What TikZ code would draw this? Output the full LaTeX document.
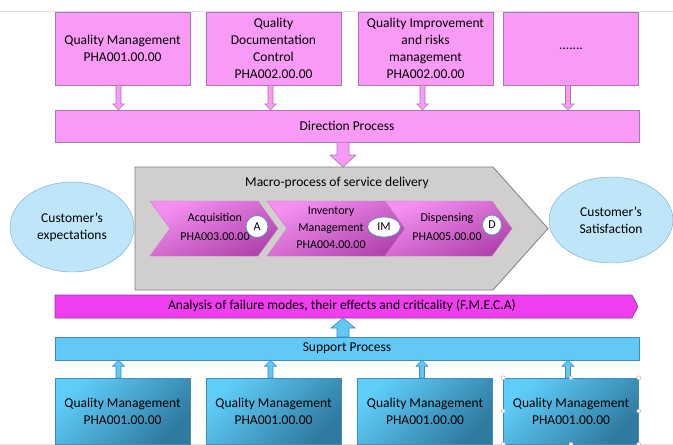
\documentclass[tikz,border=0pt]{standalone}
\usepackage{fontspec}
\setmainfont{Carlito}
\usetikzlibrary{calc,shapes.geometric}

\definecolor{pinkfill}{HTML}{F99BF6}
\definecolor{pinkline}{HTML}{A577B8}
\definecolor{greyfill}{HTML}{D1CECE}
\definecolor{greyline}{HTML}{7F7F7F}
\definecolor{chevtop}{HTML}{F590F2}
\definecolor{chevbot}{HTML}{B043AC}
\definecolor{chevline}{HTML}{C77CC8}
\definecolor{skyfill}{HTML}{BFE5F8}
\definecolor{skyline}{HTML}{74A9D0}
\definecolor{fmecafill}{HTML}{F03DF0}
\definecolor{fmecaline}{HTML}{8E3C9E}
\definecolor{bluefill}{HTML}{62C9F7}
\definecolor{blueline}{HTML}{3F8CBE}
\definecolor{bluetop}{HTML}{5FCDF9}
\definecolor{bluebot}{HTML}{2F7AA0}
\definecolor{badgeline}{HTML}{5E8FBF}

\newcommand\txtmain{\fontsize{13.5}{17}\selectfont}
\newcommand\txtchev{\fontsize{12}{17}\selectfont}

% vertical block arrow: #1 start, #2 end (only its y is used),
% #3 half shaft width, #4 half head width, #5 signed head length, #6 style
\newcommand\vblockarrow[6]{%
  \path[#6] let \p1=#1, \p2=#2, \n1={\y2+(#5)} in
    ({\x1-#3},\y1) -- ({\x1-#3},\n1) -- ({\x1-#4},\n1) -- (\x1,\y2)
    -- ({\x1+#4},\n1) -- ({\x1+#3},\n1) -- ({\x1+#3},\y1) -- cycle;}

\begin{document}
\begin{tikzpicture}[x=1pt,y=-1pt,
  pinkbox/.style={draw=pinkline, fill=pinkfill, minimum width=135pt,
    minimum height=73pt, align=center, font=\txtmain, inner sep=0pt},
  pinkbar/.style={draw=pinkline, fill=pinkfill, minimum width=584pt,
    minimum height=32pt, font=\txtmain, inner sep=0pt},
  bluebox/.style={draw=blueline, top color=bluetop, bottom color=bluebot,
    shading angle=45, minimum width=135pt, minimum height=66pt,
    align=center, font=\txtmain, inner sep=0pt},
  bluebar/.style={draw=blueline, fill=bluefill, minimum width=584pt,
    minimum height=23pt, font=\txtmain, inner sep=0pt},
  customer/.style={ellipse, draw=skyline, fill=skyfill, align=center,
    font=\txtmain, inner sep=0pt},
  chevron/.style={draw=chevline, top color=chevtop, bottom color=chevbot,
    shading angle=25},
  chevtext/.style={align=center, font=\txtchev, inner sep=0pt},
  badge/.style={ellipse, draw=badgeline, fill=white, line width=0.8pt,
    font=\txtchev, inner sep=0pt},
  pinkarrow/.style={draw=pinkline, fill=pinkfill, line width=0.6pt},
  bluearrow/.style={draw=blueline, fill=bluefill, line width=0.6pt},
  handle/.style={circle, draw=gray!70, fill=white, line width=0.4pt,
    minimum size=4pt, inner sep=0pt}]

\useasboundingbox (0,0) rectangle (673,445);
\fill[white] (0,0) rectangle (673,445);

% faint frame lines
\draw[gray!25, line width=0.8pt] (0,11) -- (673,11);
\draw[gray!25, line width=0.8pt] (0,444) -- (673,444);

% direction processes
\node[pinkbox] (q1) at (122.5,48.5) {Quality Management\\PHA001.00.00};
\node[pinkbox] (q2) at (273.5,48.5) {Quality\\Documentation\\Control\\PHA002.00.00};
\node[pinkbox] (q3) at (425.5,48.5) {Quality Improvement\\and risks\\management\\PHA002.00.00};
\node[pinkbox] (q4) at (571,48.5) {\raisebox{-3pt}{.......}};
\node[pinkbar] (dir) at (347,126) {Direction Process};

\vblockarrow{($(q1.south)+(-4,0)$)}{(dir.north)}{2.5pt}{6pt}{6pt}{pinkarrow}
\vblockarrow{($(q2.south)+(-3,0)$)}{(dir.north)}{2.5pt}{6pt}{6pt}{pinkarrow}
\vblockarrow{($(q3.south)+(-3,0)$)}{(dir.north)}{2.5pt}{6pt}{6pt}{pinkarrow}
\vblockarrow{($(q4.south)+(-3,0)$)}{(dir.north)}{2.5pt}{6pt}{6pt}{pinkarrow}

% macro-process of service delivery
\path[draw=greyline, fill=greyfill, line width=0.8pt]
  (135,167) -- (493,167) -- (548,228.5) -- (493,290) -- (135,290) -- cycle;
\coordinate (macrotop) at (343,167);
\node[font=\txtmain, inner sep=0pt] (macro) at (337,183) {Macro-process of service delivery};

\vblockarrow{($(dir.south)+(-4,0)$)}{(macrotop)}{6pt}{13pt}{12pt}{pinkarrow}

% chevrons
\path[chevron] (150,201) -- (258,201) -- (278,228.5) -- (258,256) -- (150,256) -- (170,228.5) -- cycle;
\path[chevron] (267,201) -- (388,201) -- (408,228.5) -- (388,256) -- (267,256) -- (287,228.5) -- cycle;
\path[chevron] (385,201) -- (492,201) -- (512,228.5) -- (492,256) -- (385,256) -- (405,228.5) -- cycle;

\node[chevtext] (acq) at (215,227) {Acquisition\\[2pt]PHA003.00.00};
\node[chevtext] (inv) at (331,228) {Inventory\\Management\\PHA004.00.00};
\node[chevtext] (dis) at (447,227) {Dispensing\\[2pt]PHA005.00.00};

\node[badge, minimum width=22pt, minimum height=22pt] (bA) at (257,226.5) {A};
\node[badge, minimum width=33pt, minimum height=20pt] (bIM) at (384,227) {IM};
\node[badge, minimum width=19pt, minimum height=20pt] (bD) at (492,225) {D};

% customers
\node[customer, minimum width=124pt, minimum height=90pt] (expect) at (72,227) {Customer's\\expectations};
\node[customer, minimum width=124pt, minimum height=86pt] (satisf) at (611,220) {Customer's\\Satisfaction};

% F.M.E.C.A. band
\path[draw=fmecaline, fill=fmecafill, line width=0.6pt]
  (55,295) -- (632,295) -- (638,306.5) -- (632,318) -- (55,318) -- cycle;
\coordinate (fmecabot) at (343,318);
\node[font=\txtmain, inner sep=0pt] (fmeca) at (342,306)
  {Analysis of failure modes, their effects and criticality (F.M.E.C.A)};

% support processes
\node[bluebar] (sup) at (347,348.5) {Support Process};
\vblockarrow{($(sup.north)+(-4,0)$)}{(fmecabot)}{6pt}{12pt}{-10pt}{bluearrow}

\node[bluebox] (b1) at (122.5,411) {Quality Management\\PHA001.00.00};
\node[bluebox] (b2) at (273.5,411) {Quality Management\\PHA001.00.00};
\node[bluebox] (b3) at (425,411) {Quality Management\\PHA001.00.00};
\node[bluebox] (b4) at (571,411) {Quality Management\\PHA001.00.00};

\vblockarrow{($(b1.north)+(-4,0)$)}{(sup.south)}{2.5pt}{6pt}{-6pt}{bluearrow}
\vblockarrow{($(b2.north)+(-3,0)$)}{(sup.south)}{2.5pt}{6pt}{-6pt}{bluearrow}
\vblockarrow{($(b3.north)+(-3,0)$)}{(sup.south)}{2.5pt}{6pt}{-6pt}{bluearrow}
\vblockarrow{($(b4.north)+(-3,0)$)}{(sup.south)}{2.5pt}{6pt}{-6pt}{bluearrow}

% selection handles on the last box
\foreach \a in {north west,north,north east,west,east,south west,south,south east}
  \node[handle] at (b4.\a) {};

\end{tikzpicture}
\end{document}
